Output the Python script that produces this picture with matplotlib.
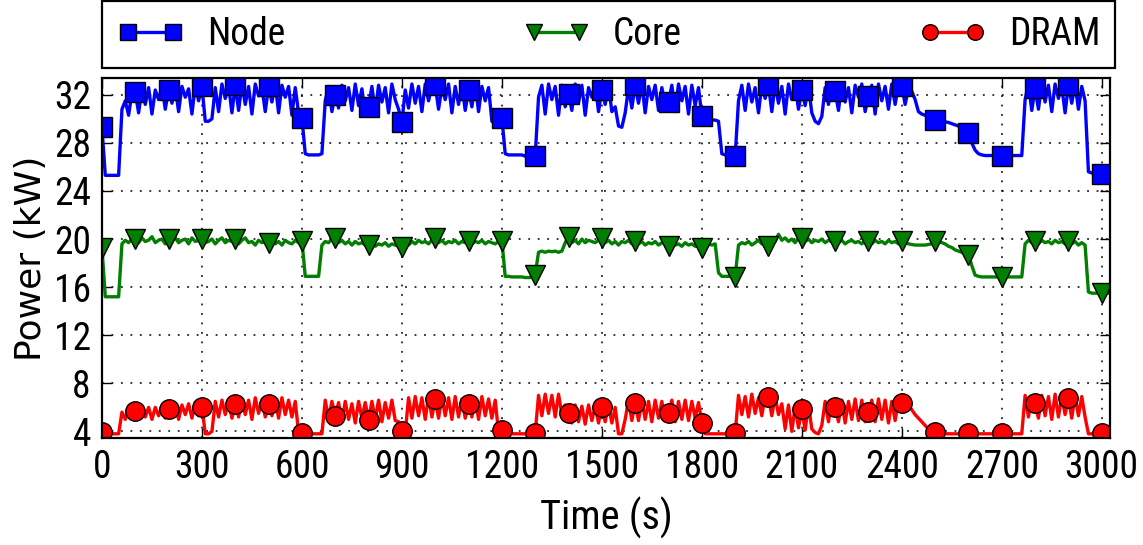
import numpy as np
import matplotlib
matplotlib.use("Agg")
import matplotlib.pyplot as plt
from matplotlib import font_manager

# power samples every 10 s (kW)
node_kw = [
    29.3, 25.3, 25.3, 25.3, 25.3, 25.3, 30.8, 31.5, 30.3, 32.2,
    32.2, 30.5, 32.5, 31.2, 32.6, 30.4, 32.4, 31.6, 32.7, 30.8,
    32.4, 31.3, 32.6, 30.6, 32.7, 31.8, 32.5, 30.4, 32.8, 31.5,
    32.7, 29.8, 29.8, 30.0, 32.6, 30.6, 32.9, 31.7, 32.8, 30.5,
    32.8, 30.7, 32.9, 31.2, 32.7, 30.4, 32.9, 31.9, 32.6, 30.6,
    32.7, 31.4, 32.9, 30.5, 32.8, 31.8, 32.7, 30.3, 32.6, 30.5,
    30.1, 27.1, 27.0, 27.0, 27.0, 27.0, 27.1, 31.5, 32.7, 30.6,
    32.0, 30.9, 32.8, 31.5, 32.6, 30.7, 32.9, 31.1, 32.5, 30.4,
    31.0, 32.7, 30.6, 32.8, 31.4, 32.6, 30.5, 32.9, 31.6, 30.8,
    29.7, 32.4, 30.9, 32.9, 31.3, 32.7, 30.6, 32.9, 31.5, 32.8,
    32.8, 30.8, 32.6, 31.6, 32.9, 30.5, 32.7, 31.2, 32.8, 30.7,
    32.4, 31.0, 32.9, 30.6, 32.7, 31.5, 32.6, 29.8, 29.6, 29.7,
    30.1, 27.1, 27.0, 27.0, 27.0, 27.0, 27.0, 26.9, 26.9, 26.9,
    26.9, 31.8, 32.8, 30.4, 32.9, 31.6, 32.7, 30.3, 32.8, 31.0,
    32.1, 30.7, 32.9, 31.4, 32.8, 30.3, 32.6, 31.8, 32.9, 30.6,
    32.4, 31.2, 32.8, 30.6, 31.0, 29.4, 29.3, 30.5, 32.6, 30.9,
    32.8, 31.3, 32.9, 30.5, 32.7, 31.6, 32.8, 30.7, 32.6, 31.2,
    31.4, 32.8, 30.6, 32.9, 31.5, 32.7, 30.4, 32.8, 31.1, 32.6,
    30.2, 30.0, 30.0, 29.9, 29.9, 29.8, 27.1, 27.0, 27.0, 27.0,
    26.9, 31.5, 32.8, 30.7, 32.9, 31.4, 32.6, 30.5, 32.8, 31.7,
    32.8, 30.6, 32.9, 31.3, 32.7, 30.4, 32.9, 31.6, 32.8, 30.8,
    32.4, 31.1, 32.7, 30.5, 29.8, 29.6, 30.2, 32.6, 31.2, 32.8,
    32.3, 30.7, 32.9, 31.4, 32.6, 30.5, 32.8, 31.8, 32.9, 30.6,
    31.9, 32.8, 30.4, 32.9, 31.5, 32.7, 30.8, 32.9, 31.2, 32.8,
    32.75, 31.2, 32.5, 32.3, 31.6, 30.6, 30.4, 30.3, 30.2, 30.1,
    29.9, 29.85, 29.8, 29.75, 29.7, 29.6, 29.5, 29.4, 29.3, 29.1,
    28.8, 28.0, 27.4, 27.1, 27.0, 26.95, 26.95, 26.95, 26.95, 26.95,
    26.93, 26.95, 26.95, 26.95, 26.95, 26.95, 26.95, 31.6, 32.9, 30.7,
    32.56, 30.8, 32.9, 31.4, 32.8, 30.6, 32.9, 31.7, 32.7, 30.5,
    32.83, 31.3, 32.9, 30.8, 32.7, 31.5, 25.6, 25.5, 25.4, 25.4,
    25.43, 25.4, 25.4,
]

core_kw = [
    19.27, 15.2, 15.2, 15.2, 15.2, 15.2, 19.6, 19.9, 19.7, 20.0,
    20.0, 19.7, 20.1, 19.8, 19.9, 20.2, 19.7, 19.9, 20.0, 19.6,
    20.0, 19.8, 20.1, 19.7, 19.9, 20.0, 19.6, 20.1, 19.8, 19.9,
    20.0, 19.7, 19.8, 20.0, 19.6, 19.9, 20.1, 19.7, 19.9, 19.8,
    20.0, 19.6, 19.9, 20.1, 19.7, 19.8, 19.5, 19.9, 19.7, 19.8,
    19.7, 19.9, 19.6, 19.8, 19.5, 19.9, 19.7, 19.6, 19.9, 19.7,
    19.88, 16.9, 16.9, 16.9, 16.9, 16.9, 19.5, 19.8, 19.7, 20.0,
    20.08, 19.7, 19.9, 19.6, 19.8, 19.5, 19.8, 19.6, 19.7, 19.5,
    19.52, 19.7, 19.4, 19.6, 19.5, 19.7, 19.4, 19.6, 19.5, 19.4,
    19.38, 19.6, 19.5, 19.8, 19.6, 19.9, 19.7, 19.8, 19.6, 19.9,
    20.08, 19.7, 19.9, 19.6, 19.8, 19.7, 19.9, 19.6, 19.8, 19.7,
    19.88, 19.6, 19.8, 19.7, 19.9, 19.6, 19.8, 19.7, 19.6, 19.8,
    19.88, 16.9, 16.9, 16.85, 16.85, 16.85, 16.85, 16.8, 16.8, 16.8,
    17.03, 18.9, 19.0, 18.9, 19.0, 18.95, 19.0, 18.9, 19.0, 19.7,
    20.21, 19.7, 19.9, 19.6, 20.0, 19.7, 19.9, 19.8, 19.7, 19.9,
    20.08, 19.7, 19.9, 19.6, 19.8, 19.5, 19.8, 19.7, 19.9, 19.6,
    19.88, 19.6, 19.8, 19.5, 19.7, 19.6, 19.8, 19.5, 19.7, 19.6,
    19.44, 19.7, 19.5, 19.6, 19.4, 19.7, 19.5, 19.6, 19.4, 19.5,
    19.25, 19.5, 19.6, 19.5, 19.6, 17.2, 16.9, 16.9, 16.9, 16.9,
    16.88, 19.5, 19.7, 19.6, 19.8, 19.5, 19.7, 19.9, 19.6, 20.0,
    19.44, 19.6, 19.8, 20.4, 19.9, 20.1, 19.8, 20.0, 19.7, 20.1,
    20.08, 19.8, 20.0, 19.7, 19.9, 19.8, 20.0, 19.7, 19.9, 19.8,
    19.88, 19.7, 19.9, 19.6, 19.8, 19.9, 19.7, 19.8, 19.6, 19.9,
    19.80, 19.6, 19.9, 19.7, 19.8, 19.6, 19.9, 19.7, 19.8, 19.6,
    19.88, 19.7, 19.6, 19.55, 19.5, 19.5, 19.5, 19.5, 19.55, 19.6,
    19.88, 19.8, 19.7, 19.6, 19.4, 19.3, 19.1, 19.0, 18.9, 18.8,
    18.69, 17.8, 17.0, 16.9, 16.85, 16.85, 16.85, 16.85, 16.85, 16.85,
    16.83, 16.85, 16.85, 16.85, 16.85, 16.85, 16.85, 19.6, 19.9, 19.7,
    19.88, 19.6, 19.9, 19.7, 19.8, 19.6, 19.9, 19.7, 19.8, 19.6,
    19.80, 19.6, 19.8, 19.5, 19.7, 19.5, 15.6, 15.5, 15.5, 15.5,
    15.55, 15.5, 15.5,
]

dram_kw = [
    3.99, 3.8, 3.8, 3.8, 3.8, 3.8, 5.6, 5.0, 5.8, 5.1,
    5.73, 5.1, 5.9, 5.2, 6.0, 5.0, 6.0, 5.3, 6.1, 5.1,
    5.85, 5.2, 6.2, 5.0, 6.2, 5.4, 6.3, 5.1, 6.4, 5.3,
    6.07, 3.8, 3.8, 4.0, 6.5, 5.2, 6.6, 5.4, 6.5, 5.1,
    6.29, 5.2, 6.7, 5.4, 6.6, 5.0, 6.8, 5.5, 6.6, 5.2,
    6.29, 5.3, 6.7, 5.1, 6.8, 5.4, 6.6, 5.2, 6.5, 3.9,
    3.86, 3.8, 3.8, 3.8, 3.8, 3.8, 3.8, 6.6, 5.0, 6.5,
    5.29, 6.4, 4.8, 6.5, 5.0, 6.3, 4.7, 6.5, 5.1, 6.4,
    4.96, 6.5, 5.0, 6.6, 4.8, 6.4, 5.1, 6.6, 4.9, 4.8,
    4.05, 3.9, 6.8, 5.1, 6.9, 5.3, 6.8, 5.0, 6.9, 5.2,
    6.68, 5.1, 6.9, 5.3, 6.8, 5.0, 6.9, 5.2, 6.7, 5.1,
    6.29, 5.2, 6.8, 5.0, 6.9, 5.3, 6.7, 5.1, 6.6, 3.9,
    4.13, 3.8, 3.8, 3.8, 3.8, 3.8, 3.8, 3.8, 3.8, 3.8,
    3.86, 7.0, 5.3, 7.1, 5.5, 7.0, 5.2, 7.1, 5.4, 6.2,
    5.52, 4.7, 6.2, 4.8, 6.1, 4.6, 6.2, 4.9, 6.1, 4.7,
    6.07, 4.8, 6.2, 4.7, 6.0, 3.8, 3.8, 5.0, 6.6, 4.9,
    6.40, 4.9, 6.6, 5.0, 6.5, 4.8, 6.6, 5.1, 6.5, 4.9,
    5.52, 6.6, 4.8, 6.5, 5.0, 6.6, 4.9, 6.5, 5.1, 6.4,
    4.74, 3.8, 3.8, 3.8, 3.8, 3.8, 3.8, 3.8, 3.8, 3.8,
    3.86, 7.0, 5.4, 6.9, 5.2, 7.1, 5.5, 6.8, 5.3, 7.0,
    6.85, 5.3, 6.9, 5.4, 6.3, 4.2, 6.2, 4.0, 6.1, 4.3,
    5.85, 4.1, 6.2, 4.2, 3.9, 3.8, 4.5, 6.5, 4.8, 6.6,
    6.07, 4.8, 6.6, 4.7, 6.5, 5.0, 6.7, 4.9, 6.6, 4.8,
    5.65, 6.6, 4.8, 6.7, 5.0, 6.6, 4.7, 6.5, 4.9, 6.6,
    6.40, 6.35, 6.2, 5.8, 5.4, 5.1, 4.8, 4.5, 4.2, 4.0,
    3.91, 3.8, 3.8, 3.8, 3.8, 3.8, 3.8, 3.8, 3.8, 3.8,
    3.86, 3.8, 3.8, 3.8, 3.8, 3.8, 3.8, 3.8, 3.8, 3.8,
    3.86, 3.8, 3.8, 3.8, 3.8, 3.8, 3.8, 7.0, 5.2, 6.9,
    6.40, 5.1, 7.0, 5.3, 6.9, 5.0, 7.1, 5.2, 6.9, 5.4,
    6.77, 5.1, 7.0, 5.3, 6.9, 5.2, 3.8, 3.8, 3.8, 3.8,
    3.86, 3.8, 3.8,
]

series_names = ["Node", "Core", "DRAM"]
x_ticks = [0, 300, 600, 900, 1200, 1500, 1800, 2100, 2400, 2700, 3000]
y_ticks = [4, 8, 12, 16, 20, 24, 28, 32]

sample_step = 10
t = np.arange(len(node_kw)) * sample_step

# pick a condensed face if one is installed
installed = {f.name for f in font_manager.fontManager.ttflist}
narrow_face = None
for cand in ["Liberation Sans Narrow", "DejaVu Sans Condensed", "Roboto Condensed",
             "Open Sans Condensed", "Noto Sans Condensed"]:
    if cand in installed:
        narrow_face = cand
        break
if narrow_face is None:
    narrow_face = "DejaVu Sans"
    tick_size, lab_size, leg_size = 21, 23, 23
else:
    tick_size, lab_size, leg_size = 27, 29, 27
narrow = [narrow_face, "DejaVu Sans"]

fig = plt.figure(figsize=(11.43, 5.45), dpi=100)
ax = fig.add_axes([0.0892, 0.1963, 0.8820, 0.6606])

styles = [
    dict(color="#0000ff", marker="s", markersize=14),
    dict(color="#007f00", marker="v", markersize=15),
    dict(color="#ff0000", marker="o", markersize=14),
]
for name, vals, st in zip(series_names, [node_kw, core_kw, dram_kw], styles):
    ax.plot(t, vals, color=st["color"], lw=2.4, marker=st["marker"],
            markersize=st["markersize"], markerfacecolor=st["color"],
            markeredgecolor="black", markeredgewidth=1.0,
            markevery=10, label=name)

ax.set_xlim(0, 3025)
ax.set_ylim(3.45, 33.4)
ax.set_xticks(x_ticks)
ax.set_yticks(y_ticks)
ax.tick_params(direction="in", top=True, right=True, length=7, width=1,
               labelsize=tick_size, pad=8)
for lab in ax.get_xticklabels() + ax.get_yticklabels():
    lab.set_family(narrow)
ax.grid(True, color="black", linestyle=(0, (1.2, 5)), linewidth=1.1)
for sp in ax.spines.values():
    sp.set_linewidth(1.6)

ax.set_xlabel("Time (s)", fontsize=lab_size, family=narrow, labelpad=8)
ax.set_ylabel("Power (kW)", fontsize=26, family="DejaVu Sans", labelpad=4)

leg = ax.legend(loc="lower left", bbox_to_anchor=(0, 1.028, 1.005, 0.166),
                mode="expand", ncol=3, borderaxespad=0, numpoints=2,
                fancybox=False, framealpha=1, edgecolor="black",
                prop={"family": narrow, "size": leg_size}, markerscale=0.8,
                handlelength=1.8, handletextpad=0.6)
leg.get_frame().set_linewidth(1.6)

fig.savefig("out.png", dpi=100)
